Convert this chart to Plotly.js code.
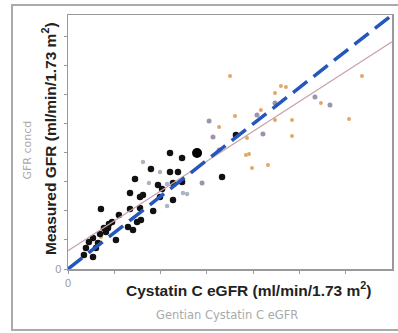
<!DOCTYPE html>
<html>
<head>
<meta charset="utf-8">
<script src="https://cdn.plot.ly/plotly-3.0.1.min.js"></script>
<style>html,body{margin:0;padding:0;background:#fff}#chart{width:398px;height:333px}</style>
</head>
<body>
<div id="chart"></div>
<script>
// Black (study) points
const blackX = [55.1,61.6,44.8,55.1,59.4,36.2,48.6,56.7,61.6,50.8,33.5,38.9,40.5,56.7,49.7,46.0,83.2,90.7,17.8,27.5,33.5,38.9,39.4,37.3,35.1,32.4,22.1,23.8,19.4,21.6,20.5,17.3,25.9,13.5,16.2,11.3,15.1,9.7,13.5,8.6];
const blackY = [79.9,76.5,68.9,66.8,66.8,62.0,57.9,59.3,60.0,55.1,52.4,49.6,51.0,47.5,49.6,40.0,63.4,92.3,41.3,37.2,41.3,42.0,33.8,32.4,26.9,28.9,31.0,32.4,28.2,28.2,25.5,24.1,20.0,21.4,17.9,18.6,14.5,14.5,8.3,9.6];
// Large black point
const bigX = [69.7];
const bigY = [79.9];
// Orange points
const orangeX = [87.5,115.0,117.7,158.8,111.8,136.6,104.2,90.2,111.8,121.0,151.8,81.6,121.0,96.7,97.8,96.1,99.4,108.0,17.8];
const orangeY = [133.0,126.1,125.4,133.0,121.3,114.4,109.5,105.4,102.7,102.7,103.3,97.8,91.6,90.3,79.2,78.5,69.6,71.7,22.0];
// Grey-purple points
const greyX = [111.8,133.4,141.5,102.1,76.2,105.3,78.3,81.6,72.4];
const greyY = [114.4,118.5,113.0,106.1,102.0,93.0,90.9,82.0,59.3];
// Light grey-blue points
const lightX = [40.5,49.7,43.7,53.5,62.1,64.3,53.5];
const lightY = [73.7,66.8,59.3,58.6,52.4,51.7,43.4];
// Lines
const identX = [0,175], identY = [0,175];
const regX = [0,175], regY = [12.6,156.6];
const xTicks = [0,25,50,75,100,125,150];
const yTicks = [0,20,40,60,80,100,120,140,160];
const xTickText = xTicks.map(v => v===0 ? "0" : "");
const yTickText = yTicks.map(v => v===0 ? "0" : "");

const traces = [
  {x: orangeX, y: orangeY, mode:'markers', type:'scatter', marker:{size:4, color:'#e3a66a'}},
  {x: greyX, y: greyY, mode:'markers', type:'scatter', marker:{size:5, color:'#9c94aa'}},
  {x: lightX, y: lightY, mode:'markers', type:'scatter', marker:{size:4.5, color:'#a9b6c2'}},
  {x: blackX, y: blackY, mode:'markers', type:'scatter', marker:{size:6.5, color:'#111'}},
  {x: bigX, y: bigY, mode:'markers', type:'scatter', marker:{size:10, color:'#000'}},
  {x: regX, y: regY, mode:'lines', type:'scatter', line:{color:'#c9a3ab', width:1.3}},
  {x: identX, y: identY, mode:'lines', type:'scatter', line:{color:'#2456bd', width:3.5, dash:'18px,8px'}}
];

const axisCommon = {
  range:[0,175], showgrid:false, zeroline:false, showline:true, linecolor:'#999', linewidth:1.5, mirror:true,
  ticks:'outside', ticklen:3, tickcolor:'#999', tickfont:{family:'Liberation Sans, Arial', size:11, color:'#999'}, fixedrange:true
};

const layout = {
  width:398, height:333,
  margin:{l:68, r:6, t:15, b:64},
  paper_bgcolor:'#fff', plot_bgcolor:'#fff',
  showlegend:false,
  xaxis: Object.assign({}, axisCommon, {tickmode:'array', tickvals:xTicks, ticktext:xTickText}),
  yaxis: Object.assign({}, axisCommon, {tickmode:'array', tickvals:yTicks, ticktext:yTickText}),
  annotations:[
    {xref:'paper', yref:'paper', x:-0.0586, y:0.512, text:'<b>Measured GFR (ml/min/1.73 m<sup>2</sup>)</b>', textangle:-90, showarrow:false, xanchor:'center', yanchor:'middle', font:{family:'Liberation Sans, Arial', size:15.5, color:'#222'}},
    {xref:'paper', yref:'paper', x:-0.1235, y:0.47, text:'GFR concd', textangle:-90, showarrow:false, xanchor:'center', yanchor:'middle', font:{family:'DejaVu Sans', size:11, color:'#aaa'}},
    {xref:'paper', yref:'paper', x:0.5586, y:-0.0787, text:'<b>Cystatin C eGFR (ml/min/1.73 m<sup>2</sup>)</b>', showarrow:false, xanchor:'center', yanchor:'middle', font:{family:'Liberation Sans, Arial', size:15.5, color:'#222'}},
    {xref:'paper', yref:'paper', x:0.4907, y:-0.181, text:'Gentian Cystatin C eGFR', showarrow:false, xanchor:'center', yanchor:'middle', font:{family:'DejaVu Sans', size:11.5, color:'#aaa'}}
  ],
  shapes:[
    {type:'rect', xref:'paper', yref:'paper', x0:-0.1728, x1:1.06, y0:-0.240, y1:1.039, line:{color:'#aaa', width:2}, fillcolor:'rgba(0,0,0,0)', layer:'below'}
  ]
};

Plotly.newPlot('chart', traces, layout, {displayModeBar:false, staticPlot:true});
</script>
</body>
</html>
